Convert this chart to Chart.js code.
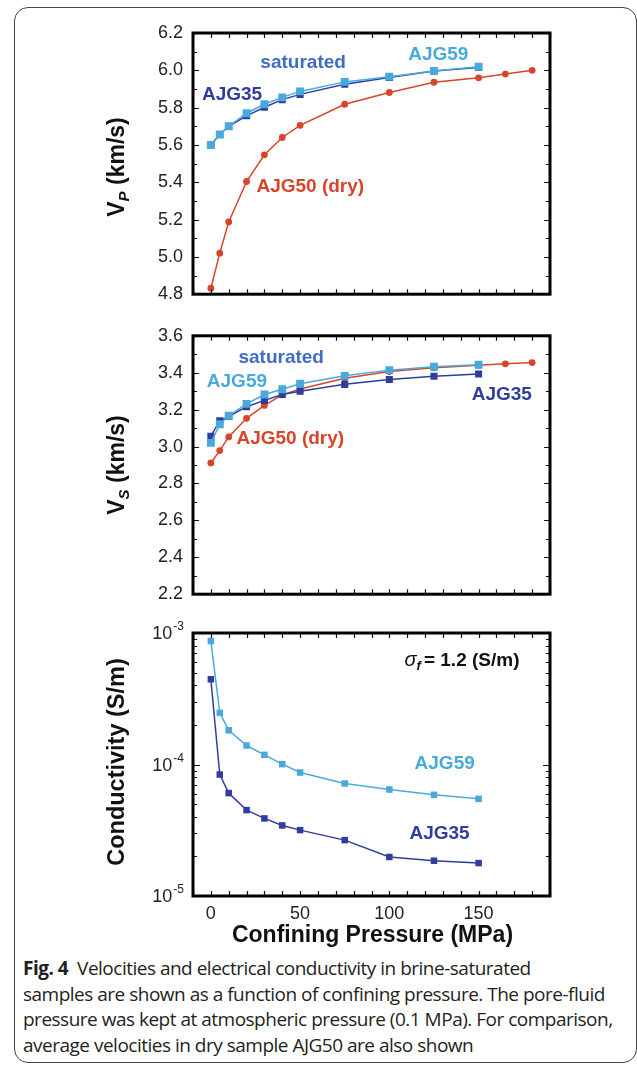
<!DOCTYPE html>
<html><head><meta charset="utf-8">
<script src="https://cdn.jsdelivr.net/npm/chart.js@4/dist/chart.umd.min.js"></script>
<style>
html,body{margin:0;padding:0;background:#fff;}
body{width:637px;height:1067px;position:relative;overflow:hidden;}
.frame{position:absolute;left:14px;top:7px;width:623px;height:1056px;border:1px solid #444;border-radius:14px;box-sizing:border-box;}
canvas{position:absolute;left:0;}
#caption{position:absolute;left:23px;top:956px;white-space:nowrap;font-family:"Open Sans";font-size:19px;line-height:25.5px;color:#231f20;letter-spacing:-0.5px;}
#caption b{font-weight:700;}
</style></head><body>
<div class="frame"></div>
<canvas id="c1" width="637" height="315" style="top:0"></canvas>
<canvas id="c2" width="637" height="300" style="top:315px"></canvas>
<canvas id="c3" width="637" height="340" style="top:615px"></canvas>
<div id="caption"><b>Fig. 4</b>&nbsp;&nbsp;Velocities and electrical conductivity in brine-saturated<br>samples are shown as a function of confining pressure. The pore-fluid<br>pressure was kept at atmospheric pressure (0.1 MPa). For comparison,<br>average velocities in dry sample AJG50 are also shown</div>
<script>
// ---- data ----
const pressureSat = [0,5,10,20,30,40,50,75,100,125,150];
const pressureDry = [0,5,10,20,30,40,50,75,100,125,150,165,180];
const vpAJG59 = [5.60,5.656,5.70,5.77,5.818,5.855,5.887,5.938,5.966,5.996,6.019];
const vpAJG35 = [5.60,5.656,5.70,5.756,5.802,5.843,5.871,5.925,5.962,5.996,6.015];
const vpAJG50 = [4.832,5.02,5.187,5.404,5.547,5.64,5.705,5.818,5.881,5.936,5.96,5.98,6.0];
const vsAJG59 = [3.02,3.121,3.167,3.231,3.282,3.31,3.34,3.383,3.414,3.432,3.443];
const vsAJG35 = [3.056,3.14,3.163,3.216,3.25,3.282,3.30,3.337,3.363,3.381,3.393];
const vsAJG50 = [2.911,2.978,3.052,3.153,3.223,3.28,3.312,3.37,3.406,3.427,3.441,3.448,3.455];
const condAJG59 = [8.69e-4,2.47e-4,1.82e-4,1.394e-4,1.184e-4,1.006e-4,8.69e-5,7.17e-5,6.45e-5,5.88e-5,5.48e-5];
const condAJG35 = [4.45e-4,8.39e-5,6.06e-5,4.50e-5,3.89e-5,3.44e-5,3.17e-5,2.66e-5,1.98e-5,1.855e-5,1.78e-5];
// ---- ticks ----
const xTickLabels = [0,50,100,150];
const vpTicks = [4.8,5.0,5.2,5.4,5.6,5.8,6.0,6.2];
const vsTicks = [2.2,2.4,2.6,2.8,3.0,3.2,3.4,3.6];
const condTicks = [1e-5,1e-4,1e-3];
const condTickExp = ['-5','-4','-3'];

const C_LIGHT = '#4aa9dc', C_DARK = '#2f3e9e', C_RED = '#d8442a', C_SAT = '#3f6dc2';
const FONT = '"Liberation Sans", Arial, sans-serif';

function pts(xs, ys){ return xs.map((x,i)=>({x:x, y:ys[i]})); }
function ds(label, xs, ys, color, style, r, bw){
  return {label, data: pts(xs,ys), borderColor: color, backgroundColor: color,
    borderWidth: bw||1.5, pointStyle: style, pointRadius: r, pointBorderWidth: 0,
    pointBackgroundColor: color, tension: 0, fill: false};
}

// frame + inward ticks + annotations
const decor = {
  id: 'decor',
  afterDatasetsDraw(chart, args, opts){
    const ctx = chart.ctx, a = chart.chartArea, xs = chart.scales.x, ys = chart.scales.y;
    ctx.save();
    ctx.strokeStyle = '#111'; ctx.lineWidth = 1.2;
    ctx.beginPath();
    for (let v = -10; v <= 190; v += 10){
      const px = Math.round(xs.getPixelForValue(v)) + 0.5;
      ctx.moveTo(px, a.bottom); ctx.lineTo(px, a.bottom - 5);
      ctx.moveTo(px, a.top); ctx.lineTo(px, a.top + 5);
    }
    const yt = opts.yMarks(ys);
    yt.forEach(m => {
      const py = Math.round(ys.getPixelForValue(m.v)) + 0.5;
      ctx.moveTo(a.left, py); ctx.lineTo(a.left + m.len, py);
      ctx.moveTo(a.right, py); ctx.lineTo(a.right - m.len, py);
    });
    ctx.stroke();
    ctx.lineWidth = 3; ctx.strokeStyle = '#000';
    ctx.strokeRect(a.left, a.top, a.right - a.left, a.bottom - a.top);
    // labels
    (opts.labels || []).forEach(l => {
      ctx.font = 'bold 19px ' + FONT;
      ctx.fillStyle = l.color; ctx.textAlign = 'center'; ctx.textBaseline = 'middle';
      ctx.fillText(l.text, xs.getPixelForValue(l.x), ys.getPixelForValue(l.y));
    });
    if (opts.extra) opts.extra(chart, ctx);
    // y-title
    if (opts.ytitle){
      const t = opts.ytitle;
      ctx.translate(t.cx, t.cy); ctx.rotate(-Math.PI/2);
      ctx.fillStyle = '#111'; ctx.textBaseline = 'alphabetic'; ctx.textAlign = 'left';
      const fMain = 'bold ' + (t.size || 23) + 'px ' + FONT, fSub = 'italic bold 15px ' + FONT;
      const parts = t.parts;
      let total = 0;
      parts.forEach(p => { ctx.font = p.sub ? fSub : fMain; p.w = ctx.measureText(p.t).width; total += p.w; });
      let x = -total/2;
      parts.forEach(p => { ctx.font = p.sub ? fSub : fMain; ctx.fillText(p.t, x, p.sub ? 13 : 8); x += p.w; });
    }
    ctx.restore();
  }
};

function linMarks(min, max){ return ys => { const m=[]; for (let i=0;i<=14;i++){ const v=min+i*(max-min)/14; m.push({v, len: i%2===0?6:4}); } return m; }; }
function logMarks(ys){ const m=[]; for (let e=-5;e<-3;e++){ for (let k=1;k<10;k++){ m.push({v:k*Math.pow(10,e), len: k===1?7:4}); } } m.push({v:1e-3,len:7}); return m; }

function baseOpts(pad, ymin, ymax, yTicks, decorOpts, showX){
  const xScale = {type: 'linear', min: -10, max: 190, display: showX,
        afterBuildTicks: s => { s.ticks = xTickLabels.map(v => ({value: v})); },
        ticks: {font: {size: 18, family: FONT}, color: '#222', padding: 7, maxRotation: 0},
        grid: {display: false, drawTicks: false}, border: {display: false}};
  if (showX) xScale.afterFit = s => { s.height = 59; };
  return {
    responsive: false, animation: false, devicePixelRatio: 1,
    layout: {padding: {top: pad.top, bottom: pad.bottom, left: 0, right: 87}},
    plugins: {legend: {display: false}, tooltip: {enabled: false}, decor: decorOpts},
    scales: {
      x: xScale,
      y: {type: yTicks ? 'linear' : 'logarithmic', min: ymin, max: ymax,
        afterFit: s => { s.width = 193; },
        afterBuildTicks: s => { s.ticks = (yTicks || condTicks).map(v => ({value: v})); },
        ticks: {display: !!yTicks, callback: v => Number(v).toFixed(1), font: {size: 18, family: FONT}, color: '#222', padding: 10},
        grid: {display: false, drawTicks: false}, border: {display: false}}
    }
  };
}

new Chart(document.getElementById('c1'), {
  type: 'line',
  data: {datasets: [
    ds('AJG59', pressureSat, vpAJG59, C_LIGHT, 'rect', 5.6),
    ds('AJG35', pressureSat, vpAJG35, C_DARK, 'rect', 5),
    ds('AJG50', pressureDry, vpAJG50, C_RED, 'circle', 3.4)
  ]},
  options: baseOpts({top: 33, bottom: 17}, 4.8, 6.2, vpTicks, {
    yMarks: linMarks(4.8, 6.2),
    labels: [
      {text: 'saturated', x: 51.7, y: 6.04, color: C_SAT},
      {text: 'AJG59', x: 127.4, y: 6.084, color: C_LIGHT},
      {text: 'AJG35', x: 11.9, y: 5.87, color: C_DARK},
      {text: 'AJG50 (dry)', x: 55.7, y: 5.376, color: C_RED}
    ],
    ytitle: {cx: 116, cy: 167, parts: [{t: 'V'}, {t: 'P', sub: true}, {t: ' (km/s)'}]}
  }, false),
  plugins: [decor]
});

new Chart(document.getElementById('c2'), {
  type: 'line',
  data: {datasets: [
    ds('AJG59', pressureSat, vsAJG59, C_LIGHT, 'rect', 5.6),
    ds('AJG35', pressureSat, vsAJG35, C_DARK, 'rect', 5),
    ds('AJG50', pressureDry, vsAJG50, C_RED, 'circle', 3.4)
  ]},
  options: baseOpts({top: 18, bottom: 18}, 2.2, 3.6, vsTicks, {
    yMarks: linMarks(2.2, 3.6),
    labels: [
      {text: 'saturated', x: 39.4, y: 3.48, color: C_SAT},
      {text: 'AJG59', x: 14.6, y: 3.35, color: C_LIGHT},
      {text: 'AJG35', x: 163, y: 3.28, color: C_DARK},
      {text: 'AJG50 (dry)', x: 44.5, y: 3.04, color: C_RED}
    ],
    ytitle: {cx: 116, cy: 150, parts: [{t: 'V'}, {t: 'S', sub: true}, {t: ' (km/s)'}]}
  }, false),
  plugins: [decor]
});

new Chart(document.getElementById('c3'), {
  type: 'line',
  data: {datasets: [
    ds('AJG59', pressureSat, condAJG59, C_LIGHT, 'rect', 4.6),
    ds('AJG35', pressureSat, condAJG35, C_DARK, 'rect', 4.6)
  ]},
  options: baseOpts({top: 18, bottom: 0}, 1e-5, 1e-3, null, {
    yMarks: logMarks,
    labels: [
      {text: 'AJG59', x: 131, y: 1.006e-4, color: C_LIGHT},
      {text: 'AJG35', x: 128.1, y: 2.96e-5, color: C_DARK}
    ],
    extra: (chart, ctx) => {
      const xs = chart.scales.x, ys = chart.scales.y, a = chart.chartArea;
      // log tick labels 10^n
      condTicks.forEach((v, i) => {
        const py = ys.getPixelForValue(v);
        ctx.fillStyle = '#222'; ctx.textBaseline = 'alphabetic'; ctx.textAlign = 'right';
        ctx.font = '12px ' + FONT;
        const ew = ctx.measureText(condTickExp[i]).width;
        ctx.fillText(condTickExp[i], 184, py - 3);
        ctx.font = '18px ' + FONT;
        ctx.fillText('10', 184 - ew - 1, py + 6);
      });
      // sigma_f annotation
      const px = xs.getPixelForValue(140.7), py = ys.getPixelForValue(6.2e-4);
      ctx.fillStyle = '#111'; ctx.textBaseline = 'middle'; ctx.textAlign = 'left';
      const s1 = 'σ', s2 = 'f', s3 = '= 1.2 (S/m)';
      ctx.font = 'italic 20px ' + FONT; const w1 = ctx.measureText(s1).width;
      ctx.font = 'italic bold 13px ' + FONT; const w2 = ctx.measureText(s2).width;
      ctx.font = 'bold 19px ' + FONT; const w3 = ctx.measureText(s3).width;
      let x = px - (w1 + w2 + w3 + 3)/2;
      ctx.font = 'italic 20px ' + FONT; ctx.fillText(s1, x, py); x += w1;
      ctx.font = 'italic bold 13px ' + FONT; ctx.fillText(s2, x, py + 6); x += w2 + 3;
      ctx.font = 'bold 19px ' + FONT; ctx.fillText(s3, x, py);
      // x title
      ctx.font = 'bold 23px ' + FONT; ctx.textAlign = 'center'; ctx.textBaseline = 'middle';
      ctx.fillText('Confining Pressure (MPa)', (a.left + a.right)/2 + 1, a.bottom + 40);
    },
    ytitle: {cx: 116, cy: 147, size: 23.5, parts: [{t: 'Conductivity (S/m)'}]}
  }, true),
  plugins: [decor]
});
</script>
</body></html>
